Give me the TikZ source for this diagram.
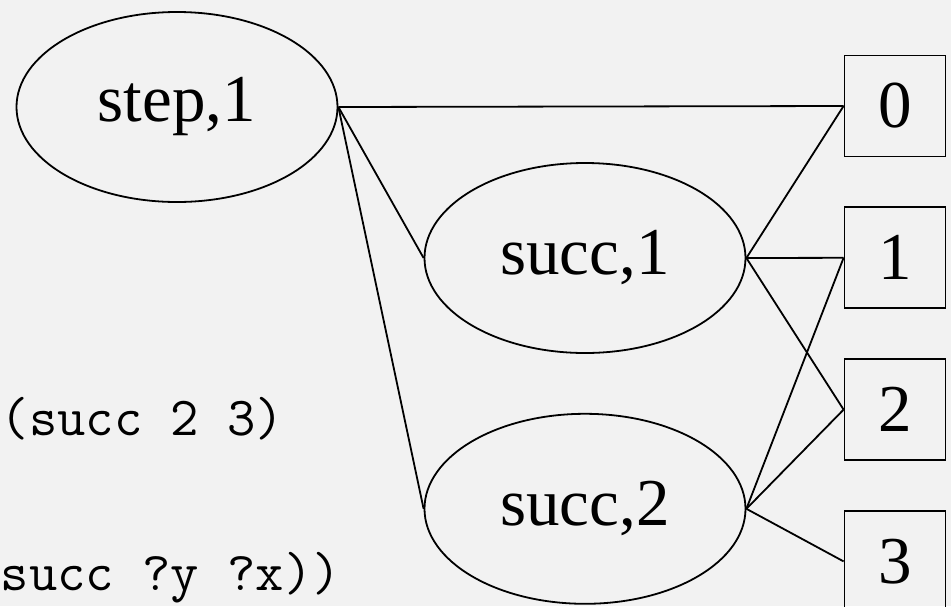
\documentclass[tikz,border=0pt]{standalone}
\usepackage{fontspec}
\setmainfont{Liberation Serif}
\usetikzlibrary{shapes,positioning}
\definecolor{slidegray}{RGB}{242,242,242}

\begin{document}
\begin{tikzpicture}[x=1pt,y=1pt,line width=1.8pt,
    term/.style={draw,ellipse,minimum width=321pt,minimum height=190pt,inner sep=0pt,
      font=\fontsize{67}{70}\selectfont},
    num/.style={draw,rectangle,minimum size=101pt,inner sep=0pt,
      font=\fontsize{67}{70}\selectfont},
    code/.style={anchor=base west,inner sep=0pt,font=\ttfamily\fontsize{55}{58}\selectfont}]
        \useasboundingbox (0,0) rectangle (951,-606);
        \fill[slidegray] (0,0) rectangle (951,-606);
        \node[code] (fact) at (0,-435) {(succ 2 3)};
        \node[code] (rule) at (0,-590) {succ ?y ?x))};
        \node[term] (step1) at (177,-107) {step,1};
        \node[term] (succ1) at (585,-258) {succ,1};
        \node[term, below = 59pt of succ1] (succ2) {succ,2};
        \node[num] (zero) at (895,-106) {0};
        \node[num, below = 49pt of zero] (one) {1};
        \node[num, below = 49pt of one] (two) {2};
        \node[num, below = 49pt of two] (three) {3};
        \draw (step1.east) -- (zero.west);
        \draw (step1.east) -- (succ1.west);
        \draw (step1.east) -- (succ2.west);
        \draw (succ1.east) -- (zero.west);
        \draw (succ1.east) -- (one.west);
        \draw (succ1.east) -- (two.west);
        \draw (succ2.east) -- (one.west);
        \draw (succ2.east) -- (two.west);
        \draw (succ2.east) -- (three.west);
      \end{tikzpicture}
\end{document}
